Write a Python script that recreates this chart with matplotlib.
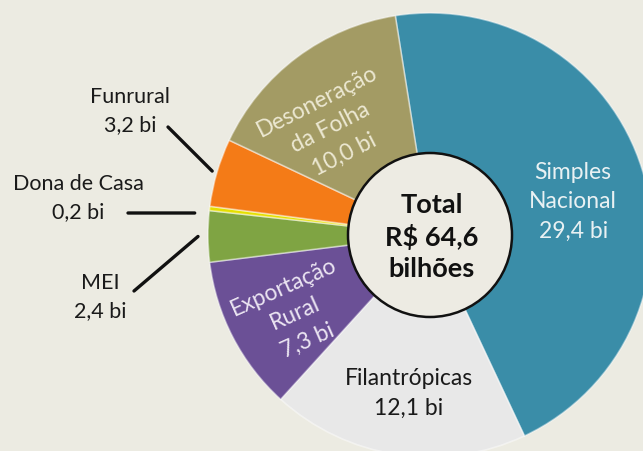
import numpy as np
import matplotlib.pyplot as plt
from matplotlib.patches import Circle

# ---- data ----
categories = ["Simples\nNacional", "Filantrópicas", "Exportação\nRural", "MEI",
              "Dona de Casa", "Funrural", "Desoneração\nda Folha"]
values = [29.4, 12.1, 7.3, 2.4, 0.2, 3.2, 10.0]
value_labels = ["29,4 bi", "12,1 bi", "7,3 bi", "2,4 bi", "0,2 bi", "3,2 bi", "10,0 bi"]
total_label = "Total\nR$ 64,6\nbilhões"

colors = ["#3a8da8", "#e8e8e8", "#6b5096", "#7fa443", "#e5df00", "#f47b17", "#a39b64"]
bg = "#ecebe2"

W, H = 643, 451
CX, CY = 430, H - 235
R_OUT, R_IN = 222, 82

plt.rcParams['font.family'] = ['Lato', 'DejaVu Sans']

fig = plt.figure(figsize=(W / 100, H / 100), dpi=100, facecolor=bg)
ax = fig.add_axes([0, 0, 1, 1])
ax.set_facecolor(bg)

wedges, _ = ax.pie(values, colors=colors, startangle=99, counterclock=False,
                   center=(CX, CY), radius=R_OUT,
                   wedgeprops=dict(edgecolor=(1, 1, 1, 0.45), linewidth=1.2))

# center disc
ax.add_patch(Circle((CX, CY), R_IN, facecolor="#edebe3", edgecolor="#111111",
                    linewidth=1.8, zorder=5))
ax.text(CX + 2, CY - 2, total_label, ha="center", va="center", fontsize=19.5,
        fontweight="bold", color="#111111", linespacing=1.35, zorder=6)


def mid_point(w, r, dang=0.0):
    a = np.deg2rad((w.theta1 + w.theta2) / 2 + dang)
    return CX + r * np.cos(a), CY + r * np.sin(a)


# labels inside the ring: index, radius, angle shift, rotation, colour
inside = [(0, 147, -4, 0, "#e9f1f3"),
          (1, 160, 1, 0, "#1a1a1a"),
          (2, 156, 3, 24, "#ebe5f2"),
          (6, 146, 6, 27, "#ece8d2")]
for i, r, da, rot, col in inside:
    x, y = mid_point(wedges[i], r, da)
    ax.text(x, y, categories[i] + "\n" + value_labels[i], ha="center", va="center",
            rotation=rot, rotation_mode="anchor", fontsize=16.5, color=col,
            linespacing=1.5, zorder=4)

# labels outside with leader lines: index, text pos, line start, line end radius
outside = [(5, (130, H - 111), (168, H - 127), 227),
           (4, (78, H - 198), (128, H - 213), 237),
           (3, (100, H - 297), (134, H - 291), 232)]
for i, tpos, lstart, r in outside:
    ax.text(tpos[0], tpos[1], categories[i] + "\n" + value_labels[i], ha="center",
            va="center", fontsize=15.5, color="#1a1a1a", linespacing=1.5)
    x, y = mid_point(wedges[i], r)
    if i == 4:
        y = lstart[1]
    ax.annotate("", xy=(x, y), xytext=lstart,
                arrowprops=dict(arrowstyle="-", color="#111111", lw=2.4,
                                shrinkA=0, shrinkB=0))

ax.set_xlim(0, W)
ax.set_ylim(0, H)
ax.set_aspect("equal")
ax.axis("off")

fig.savefig("out.png", dpi=100, facecolor=bg)
